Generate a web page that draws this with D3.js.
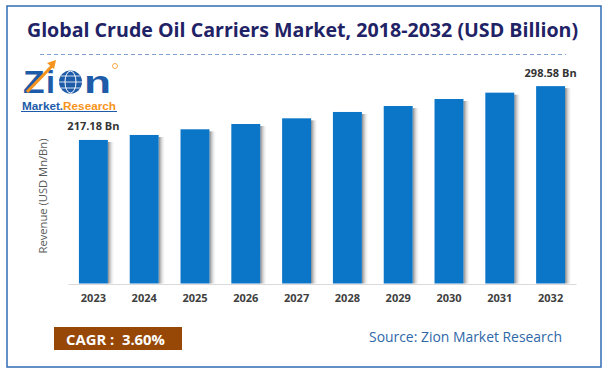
<!DOCTYPE html>
<html>
<head>
<meta charset="utf-8">
<script src="https://cdn.jsdelivr.net/npm/d3@7/dist/d3.min.js"></script>
<style>
  body { margin: 0; background: #fff; }
  svg { display: block; font-family: "Open Sans", "Noto Sans", sans-serif; }
</style>
</head>
<body>
<svg id="chart"></svg>
<script>
const years = ["2023", "2024", "2025", "2026", "2027", "2028", "2029", "2030", "2031", "2032"];
const revenue = [217.18, 224.7, 233.3, 241.3, 249.9, 259.5, 268.5, 279.1, 288.7, 298.58];
const labelled = { "2023": "217.18 Bn", "2032": "298.58 Bn" };
const title = "Global Crude Oil Carriers Market, 2018-2032 (USD Billion)";
const yTitle = "Revenue (USD Mn/Bn)";
const cagrText = "CAGR :  3.60%";
const sourceText = "Source: Zion Market Research";

const width = 609, height = 374;
const margin = ({top: 86, right: 33, bottom: 90.5, left: 68});

const svg = d3.select("#chart")
    .attr("width", width)
    .attr("height", height)
    .attr("viewBox", [0, 0, width, height]);

// shrink/grow font so text fills a measured width
function fit(sel, target) {
    const fs = parseFloat(sel.attr("font-size"));
    const len = sel.node().getComputedTextLength();
    sel.attr("font-size", (fs * target / len).toFixed(2));
    return sel;
}

const defs = svg.append("defs");
const shade = defs.append("linearGradient").attr("id", "shade");
shade.append("stop").attr("offset", "0%").attr("stop-color", "#6f6f6f").attr("stop-opacity", 0.85);
shade.append("stop").attr("offset", "100%").attr("stop-color", "#ffffff").attr("stop-opacity", 0);

// frame
svg.append("rect")
    .attr("x", 7).attr("y", 6)
    .attr("width", 594).attr("height", 361)
    .attr("fill", "#fff")
    .attr("stroke", "#2e6db4")
    .attr("stroke-width", 1.5);

// title
const t = svg.append("text")
    .attr("x", 302.5).attr("y", 37)
    .attr("text-anchor", "middle")
    .attr("font-size", 20)
    .attr("font-weight", "bold")
    .attr("fill", "#1f2366")
    .text(title);
fit(t, 551);

svg.append("line")
    .attr("x1", 40).attr("x2", 566)
    .attr("y1", 54.5).attr("y2", 54.5)
    .attr("stroke", "#7f9fd0")
    .attr("stroke-width", 1)
    .attr("stroke-dasharray", "4,3");

// logo
const logo = svg.append("g").attr("font-family", "\"Liberation Sans\", Arial, sans-serif");
logo.append("circle")
    .attr("cx", 70.5).attr("cy", 82).attr("r", 11.5)
    .attr("fill", "#1e5ba8");
logo.append("ellipse")
    .attr("cx", 70.5).attr("cy", 82).attr("rx", 5.5).attr("ry", 11)
    .attr("fill", "none").attr("stroke", "#fff").attr("stroke-width", 1);
logo.append("path")
    .attr("d", "M59,82 H82 M61,76 H80 M61,88 H80")
    .attr("stroke", "#fff").attr("stroke-width", 0.8);
logo.append("circle")
    .attr("cx", 115).attr("cy", 66).attr("r", 2.5)
    .attr("fill", "none").attr("stroke", "#f7941d").attr("stroke-width", 0.8);

const big = (txt, x0, w) => logo.append("text")
    .attr("x", x0).attr("y", 93)
    .attr("font-size", 31)
    .attr("font-weight", "bold")
    .attr("fill", "#1e5ba8")
    .attr("textLength", w)
    .attr("lengthAdjust", "spacingAndGlyphs")
    .text(txt);
big("Z", 23, 21.5);
big("i", 46, 9);
big("n", 84, 27);

const lt = logo.append("text")
    .attr("x", 22).attr("y", 110)
    .attr("font-size", 11)
    .attr("font-weight", "bold");
lt.append("tspan").attr("fill", "#1e5ba8").text("Market.");
lt.append("tspan").attr("fill", "#f7941d").text("Research");
lt.attr("textLength", 94).attr("lengthAdjust", "spacingAndGlyphs");

logo.append("path")
    .attr("d", "M27,92 L53,65")
    .attr("stroke", "#f7941d").attr("stroke-width", 3);
logo.append("path")
    .attr("d", "M47,63 L56,60 L54,69 Z")
    .attr("fill", "#f7941d");
logo.append("line")
    .attr("x1", 21).attr("x2", 117).attr("y1", 111.5).attr("y2", 111.5)
    .attr("stroke", "#1e5ba8").attr("stroke-width", 1);

// scales
const x = d3.scaleBand()
    .domain(years)
    .range([margin.left, width - margin.right])
    .paddingInner(0.43)
    .paddingOuter(0.215);

const y = d3.scaleLinear()
    .domain([0, 300])
    .range([height - margin.bottom, height - margin.bottom - 300 * 0.661]);

const data = years.map((d, i) => ({year: d, value: revenue[i]}));

// bar shadows
svg.append("g")
    .selectAll("rect")
    .data(data)
    .join("rect")
    .attr("x", d => x(d.year) + x.bandwidth())
    .attr("y", d => y(d.value) + 2)
    .attr("width", 7)
    .attr("height", d => y(0) - y(d.value) - 2)
    .attr("fill", "url(#shade)");

svg.append("g")
    .selectAll("rect")
    .data(data)
    .join("rect")
    .attr("x", d => x(d.year))
    .attr("y", d => y(d.value))
    .attr("width", x.bandwidth())
    .attr("height", d => y(0) - y(d.value))
    .attr("fill", "#0b76c8");

// x axis
const xAxis = g => g
    .attr("transform", `translate(0,${y(0) + 0.5})`)
    .call(d3.axisBottom(x).tickSize(0).tickPadding(10))
    .call(g => g.select(".domain").attr("stroke", "#d9d9d9").attr("stroke-width", 1.2))
    .call(g => g.selectAll(".tick text")
        .attr("font-size", 11)
        .attr("font-weight", "bold")
        .attr("font-family", "\"Open Sans\", sans-serif")
        .attr("fill", "#404040"));
svg.append("g").call(xAxis);

// value labels
svg.append("g")
    .selectAll("text")
    .data(data.filter(d => labelled[d.year]))
    .join("text")
    .attr("x", d => x(d.year) + x.bandwidth() / 2)
    .attr("y", d => y(d.value) - 9.5)
    .attr("text-anchor", "middle")
    .attr("font-size", 11)
    .attr("font-weight", "bold")
    .attr("fill", "#333")
    .text(d => labelled[d.year]);

// y title
svg.append("text")
    .attr("transform", "translate(46.5,196) rotate(-90)")
    .attr("text-anchor", "middle")
    .attr("font-size", 11)
    .attr("fill", "#595959")
    .text(yTitle)
    .call(s => fit(s, 115));

// cagr
svg.append("rect")
    .attr("x", 54).attr("y", 327)
    .attr("width", 128).attr("height", 23)
    .attr("fill", "#974806");
svg.append("text")
    .attr("x", 66).attr("y", 345)
    .attr("font-size", 15)
    .attr("font-weight", "bold")
    .attr("fill", "#fff")
    .style("white-space", "pre")
    .text(cagrText)
    .call(s => fit(s, 99));

// source
svg.append("text")
    .attr("x", 369).attr("y", 342)
    .attr("font-size", 14)
    .attr("fill", "#2e68a8")
    .text(sourceText)
    .call(s => fit(s, 193));
</script>
</body>
</html>
